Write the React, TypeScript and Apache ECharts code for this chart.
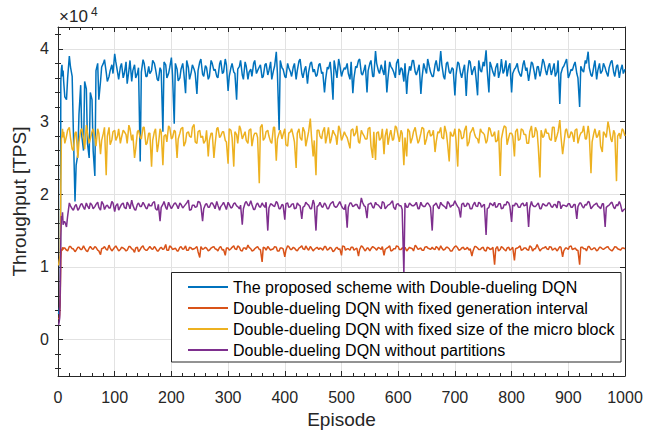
import React, { useEffect, useRef } from "react";
import * as echarts from "echarts";

const episodes = [
  1, 2, 3, 4, 5, 6, 7, 8, 9, 10,
  15, 20, 25, 30, 35, 40, 45, 50, 55, 60,
  65, 70, 75, 80, 85, 90, 95, 100, 105, 110,
  115, 120, 125, 130, 135, 140, 145, 150, 155, 160,
  165, 170, 175, 180, 185, 190, 195, 200, 205, 210,
  215, 220, 225, 230, 235, 240, 245, 250, 255, 260,
  265, 270, 275, 280, 285, 290, 295, 300, 305, 310,
  315, 320, 325, 330, 335, 340, 345, 350, 355, 360,
  365, 370, 375, 380, 385, 390, 395, 400, 405, 410,
  415, 420, 425, 430, 435, 440, 445, 450, 455, 460,
  465, 470, 475, 480, 485, 490, 495, 500, 505, 510,
  515, 520, 525, 530, 535, 540, 545, 550, 555, 560,
  565, 570, 575, 580, 585, 590, 595, 600, 605, 610,
  615, 620, 625, 630, 635, 640, 645, 650, 655, 660,
  665, 670, 675, 680, 685, 690, 695, 700, 705, 710,
  715, 720, 725, 730, 735, 740, 745, 750, 755, 760,
  765, 770, 775, 780, 785, 790, 795, 800, 805, 810,
  815, 820, 825, 830, 835, 840, 845, 850, 855, 860,
  865, 870, 875, 880, 885, 890, 895, 900, 905, 910,
  915, 920, 925, 930, 935, 940, 945, 950, 955, 960,
  965, 970, 975, 980, 985, 990, 995, 1000,
];

// Intermediate episodes read between the main grid points
const midEpisodes = [
  12, 17, 22, 27, 32, 37, 42, 47, 52, 57,
  62, 67, 72, 77, 82, 87, 92, 97, 102, 107,
  112, 117, 122, 127, 132, 137, 142, 147, 152, 157,
  162, 167, 172, 177, 182, 187, 192, 197, 202, 207,
  212, 217, 222, 227, 232, 237, 242, 247, 252, 257,
  262, 267, 272, 277, 282, 287, 292, 297, 302, 307,
  312, 317, 322, 327, 332, 337, 342, 347, 352, 357,
  362, 367, 372, 377, 382, 387, 392, 397, 402, 407,
  412, 417, 422, 427, 432, 437, 442, 447, 452, 457,
  462, 467, 472, 477, 482, 487, 492, 497, 502, 507,
  512, 517, 522, 527, 532, 537, 542, 547, 552, 557,
  562, 567, 572, 577, 582, 587, 592, 597, 602, 607,
  612, 617, 622, 627, 632, 637, 642, 647, 652, 657,
  662, 667, 672, 677, 682, 687, 692, 697, 702, 707,
  712, 717, 722, 727, 732, 737, 742, 747, 752, 757,
  762, 767, 772, 777, 782, 787, 792, 797, 802, 807,
  812, 817, 822, 827, 832, 837, 842, 847, 852, 857,
  862, 867, 872, 877, 882, 887, 892, 897, 902, 907,
  912, 917, 922, 927, 932, 937, 942, 947, 952, 957,
  962, 967, 972, 977, 982, 987, 992, 997,
];

// Throughput in units of 10^4 TPS
const proposedScheme = [
  0.35, 0.40, 0.45, 0.55, 3.55, 3.72, 3.78, 3.62, 3.70, 3.55,
  3.30, 3.90, 3.62, 1.90, 2.55, 3.50, 2.60, 3.45, 2.50, 3.30,
  2.25, 3.80, 3.55, 3.80, 3.68, 3.62, 3.78, 3.93, 3.68, 3.75,
  3.60, 3.82, 3.70, 3.55, 3.78, 3.66, 2.45, 3.85, 3.62, 3.76,
  3.70, 3.80, 3.58, 3.74, 2.86, 3.78, 3.66, 3.88, 2.97, 3.72,
  3.60, 3.80, 3.39, 3.74, 3.68, 3.72, 3.38, 3.82, 3.65, 3.77,
  3.58, 3.84, 3.70, 3.62, 3.79, 3.66, 3.86, 3.42, 3.74, 3.68,
  3.30, 3.76, 3.64, 3.82, 3.58, 3.72, 3.80, 3.66, 3.75, 3.60,
  3.78, 3.64, 3.82, 3.70, 3.96, 2.88, 3.74, 3.62, 3.80, 3.68,
  3.75, 3.58, 3.83, 3.66, 3.72, 3.52, 3.80, 3.68, 3.62, 3.78,
  3.66, 3.40, 3.75, 3.82, 3.30, 3.70, 3.86, 3.62, 3.74, 3.80,
  3.58, 3.39, 3.76, 3.84, 3.66, 3.72, 3.40, 3.80, 3.62, 3.97,
  3.70, 3.78, 3.64, 3.40, 3.82, 3.72, 3.60, 3.86, 3.74, 3.55,
  3.38, 3.76, 3.84, 3.68, 3.72, 3.38, 3.80, 3.66, 3.75, 3.62,
  3.78, 3.70, 3.97, 3.62, 3.80, 3.68, 3.74, 3.36, 3.82, 3.66,
  3.72, 3.35, 3.84, 3.64, 3.76, 3.36, 3.70, 3.82, 3.98, 3.40,
  3.74, 3.62, 3.80, 3.70, 3.66, 3.84, 3.76, 3.40, 3.72, 3.80,
  3.64, 3.78, 3.70, 3.56, 3.82, 3.68, 3.75, 3.62, 3.86, 3.70,
  3.76, 3.64, 3.80, 3.68, 3.24, 3.74, 3.82, 3.60, 3.72, 3.78,
  3.66, 3.20, 3.70, 3.84, 3.96, 3.64, 3.76, 3.58, 3.80, 3.70,
  3.74, 3.62, 3.82, 3.68, 3.76, 3.60, 3.78, 3.72,
];
const proposedSchemeMid = [
  3.34, 3.60, 3.75, 2.90, 2.40, 3.10, 2.80, 3.55, 2.70, 3.40,
  2.60, 3.70, 3.30, 3.75, 3.85, 3.55, 3.70, 3.66, 3.82, 3.58,
  3.80, 3.66, 3.52, 3.84, 3.70, 3.60, 3.74, 3.68, 3.80, 3.62,
  3.66, 3.84, 3.72, 3.56, 3.70, 3.82, 3.60, 3.74, 3.64, 3.80,
  3.56, 3.72, 3.66, 3.84, 3.58, 3.78, 3.66, 3.70, 3.86, 3.62,
  3.74, 3.62, 3.80, 3.72, 3.60, 3.84, 3.68, 3.78, 3.62, 3.80,
  3.66, 3.72, 3.84, 3.58, 3.76, 3.68, 3.62, 3.84, 3.70, 3.78,
  3.62, 3.80, 3.70, 3.58, 3.76, 3.66, 3.84, 3.72, 3.60, 3.74,
  3.62, 3.80, 3.70, 3.86, 3.60, 3.76, 3.68, 3.82, 3.72, 3.64,
  3.80, 3.68, 3.58, 3.72, 3.66, 3.84, 3.60, 3.78, 3.68, 3.72,
  3.66, 3.82, 3.60, 3.74, 3.86, 3.64, 3.78, 3.70, 3.84, 3.62,
  3.80, 3.66, 3.72, 3.84, 3.60, 3.76, 3.68, 3.80, 3.64, 3.72,
  3.80, 3.62, 3.70, 3.84, 3.64, 3.78, 3.60, 3.74, 3.86, 3.68,
  3.62, 3.84, 3.70, 3.78, 3.58, 3.82, 3.66, 3.72, 3.64, 3.80,
  3.60, 3.78, 3.66, 3.82, 3.70, 3.62, 3.84, 3.68, 3.76, 3.70,
  3.82, 3.68, 3.74, 3.60, 3.86, 3.70, 3.62, 3.80, 3.66, 3.74,
  3.70, 3.62, 3.84, 3.74, 3.66, 3.80, 3.58, 3.76, 3.70, 3.82,
  3.64, 3.80, 3.70, 3.62, 3.84, 3.66, 3.76, 3.86, 3.64, 3.70,
  3.82, 3.60, 3.76, 3.68, 3.80, 3.74, 3.62, 3.84, 3.70, 3.66,
  3.80, 3.68, 3.74, 3.84, 3.62, 3.78, 3.70, 3.66,
];

const fixedInterval = [
  0.30, 0.28, 0.35, 0.60, 1.10, 1.25, 1.22, 1.27, 1.24, 1.26,
  1.23, 1.28, 1.25, 1.21, 1.27, 1.24, 1.29, 1.22, 1.26, 1.25,
  1.28, 1.23, 1.17, 1.26, 1.24, 1.30, 1.22, 1.27, 1.25, 1.24,
  1.26, 1.22, 1.28, 1.25, 1.20, 1.27, 1.24, 1.29, 1.23, 1.26,
  1.25, 1.28, 1.22, 1.26, 1.24, 1.31, 1.23, 1.27, 1.25, 1.22,
  1.27, 1.24, 1.29, 1.23, 1.26, 1.25, 1.28, 1.13, 1.24, 1.27,
  1.22, 1.26, 1.28, 1.24, 1.27, 1.23, 1.16, 1.26, 1.25, 1.29,
  1.24, 1.27, 1.22, 1.26, 1.30, 1.25, 1.23, 1.27, 1.24, 1.07,
  1.26, 1.28, 1.23, 1.25, 1.27, 1.22, 1.26, 1.14, 1.29, 1.24,
  1.27, 1.23, 1.26, 1.29, 1.24, 1.25, 1.28, 1.22, 1.26, 1.24,
  1.25, 1.28, 1.23, 1.27, 1.21, 1.26, 1.24, 1.16, 1.28, 1.25,
  1.23, 1.27, 1.25, 1.15, 1.29, 1.24, 1.26, 1.22, 1.28, 1.25,
  1.27, 1.24, 1.16, 1.26, 1.29, 1.23, 1.25, 1.28, 1.24, 1.26,
  1.22, 1.27, 1.25, 1.30, 1.24, 1.26, 1.23, 1.28, 1.25, 1.27,
  1.24, 1.26, 1.29, 1.23, 1.27, 1.25, 1.22, 1.28, 1.26, 1.24,
  1.27, 1.25, 1.23, 1.15, 1.28, 1.26, 1.24, 1.27, 1.22, 1.26,
  1.25, 1.03, 1.28, 1.24, 1.26, 1.22, 1.27, 1.25, 1.09, 1.26,
  1.29, 1.24, 1.26, 1.23, 1.27, 1.25, 1.31, 1.22, 1.26, 1.28,
  1.24, 1.27, 1.25, 1.22, 1.28, 1.14, 1.26, 1.24, 1.29, 1.25,
  1.23, 1.03, 1.27, 1.25, 1.28, 1.24, 1.26, 1.22, 1.27, 1.25,
  1.26, 1.28, 1.23, 1.25, 1.27, 1.24, 1.26, 1.25,
];
const fixedIntervalMid = [
  1.26, 1.22, 1.28, 1.25, 1.23, 1.27, 1.24, 1.26, 1.21, 1.28,
  1.24, 1.27, 1.22, 1.25, 1.28, 1.23, 1.26, 1.24, 1.29, 1.22,
  1.27, 1.25, 1.23, 1.28, 1.24, 1.26, 1.21, 1.27, 1.25, 1.23,
  1.28, 1.24, 1.26, 1.22, 1.27, 1.25, 1.23, 1.29, 1.24, 1.26,
  1.22, 1.28, 1.25, 1.23, 1.27, 1.24, 1.26, 1.21, 1.28, 1.25,
  1.26, 1.23, 1.27, 1.25, 1.22, 1.28, 1.24, 1.26, 1.23, 1.27,
  1.25, 1.29, 1.23, 1.26, 1.24, 1.27, 1.22, 1.25, 1.28, 1.24,
  1.27, 1.23, 1.26, 1.24, 1.28, 1.22, 1.26, 1.25, 1.23, 1.28,
  1.24, 1.26, 1.22, 1.27, 1.25, 1.29, 1.23, 1.26, 1.24, 1.27,
  1.26, 1.23, 1.28, 1.24, 1.26, 1.22, 1.27, 1.25, 1.29, 1.23,
  1.25, 1.27, 1.23, 1.26, 1.24, 1.28, 1.22, 1.26, 1.25, 1.27,
  1.23, 1.26, 1.28, 1.24, 1.27, 1.22, 1.25, 1.29, 1.24, 1.26,
  1.27, 1.24, 1.26, 1.22, 1.28, 1.25, 1.23, 1.27, 1.26, 1.24,
  1.25, 1.28, 1.23, 1.26, 1.24, 1.27, 1.22, 1.25, 1.29, 1.23,
  1.26, 1.24, 1.27, 1.25, 1.22, 1.28, 1.24, 1.26, 1.23, 1.27,
  1.24, 1.27, 1.25, 1.22, 1.28, 1.24, 1.26, 1.23, 1.27, 1.25,
  1.27, 1.23, 1.26, 1.24, 1.29, 1.22, 1.25, 1.27, 1.24, 1.26,
  1.25, 1.28, 1.23, 1.26, 1.24, 1.27, 1.22, 1.26, 1.28, 1.24,
  1.26, 1.23, 1.27, 1.25, 1.22, 1.28, 1.24, 1.26, 1.23, 1.27,
  1.24, 1.27, 1.25, 1.22, 1.28, 1.25, 1.23, 1.26,
];

const fixedMicroBlock = [
  1.02, 1.08, 1.12, 1.18, 2.10, 2.75, 2.82, 2.90, 2.78, 2.86,
  2.80, 2.92, 2.62, 2.84, 2.50, 2.88, 2.76, 2.95, 2.70, 2.86,
  2.78, 2.90, 2.55, 2.84, 2.26, 2.92, 2.75, 2.88, 2.80, 2.70,
  2.88, 2.82, 2.95, 2.74, 2.50, 2.86, 2.78, 2.92, 2.68, 2.84,
  2.38, 2.86, 2.58, 2.90, 2.40, 2.82, 2.94, 2.76, 2.88, 2.50,
  2.84, 2.92, 2.72, 2.86, 2.78, 2.96, 2.70, 2.88, 2.80, 2.74,
  2.52, 2.84, 2.50, 2.90, 2.78, 2.86, 2.74, 2.42, 2.88, 2.38,
  2.82, 2.94, 2.76, 2.86, 2.70, 2.90, 2.80, 2.84, 2.15, 2.96,
  2.78, 2.88, 2.72, 2.92, 2.46, 2.84, 2.76, 2.90, 2.66, 2.86,
  2.80, 2.36, 2.90, 2.74, 2.86, 2.78, 3.04, 2.52, 2.26, 2.88,
  2.76, 2.92, 2.82, 2.70, 2.88, 2.80, 2.94, 2.74, 2.86, 2.78,
  2.63, 2.90, 2.84, 2.72, 2.88, 2.80, 2.76, 2.92, 2.50, 2.47,
  2.86, 2.78, 2.55, 2.90, 2.82, 2.74, 2.94, 2.80, 2.88, 2.40,
  2.52, 2.86, 2.78, 2.92, 2.70, 2.84, 2.90, 2.76, 2.88, 2.82,
  2.58, 2.86, 2.92, 2.76, 2.84, 2.45, 2.80, 2.90, 2.38, 2.86,
  2.78, 2.94, 2.72, 2.88, 2.82, 2.76, 2.90, 2.84, 2.70, 2.92,
  2.80, 2.86, 2.74, 2.25, 2.88, 2.92, 2.78, 2.84, 2.52, 2.90,
  2.76, 2.88, 2.82, 2.70, 2.94, 2.80, 2.86, 2.23, 2.78, 2.90,
  2.84, 2.74, 2.92, 2.80, 3.02, 2.55, 2.88, 2.78, 2.86, 2.72,
  2.90, 2.80, 2.86, 2.76, 2.94, 2.29, 2.84, 2.78, 2.88, 2.58,
  2.82, 3.00, 2.76, 2.88, 2.18, 2.84, 2.90, 2.80,
];
const fixedMicroBlockMid = [
  2.70, 2.88, 2.78, 2.60, 2.86, 2.72, 2.90, 2.62, 2.84, 2.76,
  2.90, 2.66, 2.84, 2.74, 2.92, 2.80, 2.68, 2.86, 2.74, 2.90,
  2.78, 2.86, 2.70, 2.90, 2.82, 2.62, 2.88, 2.76, 2.92, 2.70,
  2.84, 2.74, 2.90, 2.68, 2.86, 2.80, 2.72, 2.92, 2.78, 2.86,
  2.76, 2.90, 2.66, 2.84, 2.80, 2.92, 2.72, 2.86, 2.78, 2.70,
  2.88, 2.74, 2.84, 2.68, 2.92, 2.80, 2.86, 2.72, 2.90, 2.78,
  2.86, 2.70, 2.90, 2.80, 2.74, 2.88, 2.66, 2.84, 2.78, 2.92,
  2.74, 2.86, 2.80, 2.70, 2.92, 2.76, 2.88, 2.82, 2.68, 2.84,
  2.90, 2.72, 2.84, 2.78, 2.92, 2.66, 2.86, 2.80, 2.74, 2.88,
  2.80, 2.86, 2.70, 2.92, 2.76, 2.84, 2.68, 2.90, 2.78, 2.82,
  2.72, 2.88, 2.80, 2.94, 2.70, 2.84, 2.76, 2.90, 2.66, 2.86,
  2.84, 2.74, 2.90, 2.80, 2.68, 2.88, 2.76, 2.92, 2.72, 2.84,
  2.78, 2.90, 2.70, 2.86, 2.82, 2.74, 2.92, 2.68, 2.84, 2.80,
  2.88, 2.72, 2.84, 2.78, 2.94, 2.70, 2.86, 2.80, 2.74, 2.90,
  2.76, 2.88, 2.66, 2.84, 2.92, 2.78, 2.70, 2.86, 2.82, 2.74,
  2.90, 2.80, 2.72, 2.88, 2.76, 2.94, 2.68, 2.84, 2.80, 2.86,
  2.74, 2.90, 2.82, 2.70, 2.86, 2.78, 2.92, 2.66, 2.88, 2.80,
  2.84, 2.76, 2.92, 2.72, 2.86, 2.80, 2.68, 2.90, 2.78, 2.84,
  2.88, 2.70, 2.84, 2.94, 2.76, 2.82, 2.72, 2.90, 2.80, 2.66,
  2.86, 2.78, 2.92, 2.72, 2.84, 2.80, 2.76, 2.88,
];

const withoutPartitions = [
  0.20, 0.24, 0.30, 0.70, 1.40, 1.70, 1.65, 1.75, 1.58, 1.62,
  1.55, 1.88, 1.80, 1.84, 1.78, 1.86, 1.82, 1.88, 1.80, 1.85,
  1.83, 1.89, 1.78, 1.86, 1.84, 1.81, 1.90, 1.76, 1.87, 1.83,
  1.88, 1.80, 1.85, 1.92, 1.79, 1.86, 1.83, 1.89, 1.81, 1.87,
  1.84, 1.90, 1.78, 1.63, 1.86, 1.82, 1.89, 1.80, 1.87, 1.84,
  1.88, 1.81, 1.86, 1.92, 1.79, 1.85, 1.83, 1.89, 1.63, 1.86,
  1.82, 1.88, 1.84, 1.90, 1.78, 1.86, 1.83, 1.89, 1.81, 1.87,
  1.84, 1.80, 1.58, 1.88, 1.85, 1.91, 1.79, 1.86, 1.83, 1.88,
  1.82, 1.50, 1.87, 1.84, 1.90, 1.80, 1.86, 1.65, 1.88, 1.83,
  1.87, 1.81, 1.85, 1.66, 1.84, 1.86, 1.80, 1.92, 1.50, 1.85,
  1.83, 1.88, 1.80, 1.86, 1.90, 1.82, 1.87, 1.84, 1.79, 1.54,
  1.88, 1.83, 1.86, 1.81, 1.95, 1.84, 1.67, 1.87, 1.82, 1.89,
  1.85, 1.80, 1.88, 1.83, 1.86, 1.91, 1.79, 1.87, 1.84, 0.90,
  1.82, 1.88, 1.84, 1.86, 1.80, 1.89, 1.83, 1.87, 1.85, 1.50,
  1.86, 1.82, 1.89, 1.84, 1.80, 1.87, 1.85, 1.91, 1.83, 1.68,
  1.88, 1.84, 1.86, 1.80, 1.89, 1.83, 1.87, 1.85, 1.44, 1.82,
  1.86, 1.89, 1.83, 1.87, 1.81, 1.85, 1.88, 1.62, 1.84, 1.86,
  1.82, 1.88, 1.85, 1.55, 1.90, 1.83, 1.86, 1.80, 1.87, 1.84,
  1.88, 1.83, 1.86, 1.81, 1.89, 1.85, 1.84, 1.87, 1.82, 1.86,
  1.66, 1.88, 1.83, 1.86, 1.90, 1.80, 1.85, 1.88, 1.82, 1.87,
  1.55, 1.84, 1.88, 1.82, 1.86, 1.90, 1.76, 1.80,
];
const withoutPartitionsMid = [
  1.62, 1.70, 1.84, 1.78, 1.86, 1.80, 1.87, 1.79, 1.84, 1.88,
  1.80, 1.86, 1.82, 1.90, 1.79, 1.85, 1.81, 1.88, 1.84, 1.78,
  1.86, 1.82, 1.89, 1.80, 1.85, 1.78, 1.88, 1.83, 1.86, 1.80,
  1.84, 1.88, 1.80, 1.86, 1.82, 1.90, 1.79, 1.85, 1.83, 1.88,
  1.80, 1.86, 1.83, 1.88, 1.78, 1.85, 1.82, 1.90, 1.84, 1.80,
  1.87, 1.82, 1.88, 1.80, 1.85, 1.83, 1.89, 1.79, 1.86, 1.82,
  1.88, 1.83, 1.85, 1.80, 1.90, 1.84, 1.86, 1.79, 1.88, 1.82,
  1.85, 1.89, 1.81, 1.86, 1.83, 1.88, 1.80, 1.85, 1.87, 1.82,
  1.86, 1.80, 1.88, 1.84, 1.82, 1.89, 1.85, 1.80, 1.87, 1.83,
  1.89, 1.82, 1.86, 1.80, 1.88, 1.84, 1.83, 1.90, 1.81, 1.86,
  1.82, 1.88, 1.84, 1.86, 1.80, 1.89, 1.83, 1.86, 1.88, 1.81,
  1.86, 1.83, 1.90, 1.80, 1.85, 1.88, 1.82, 1.86, 1.84, 1.79,
  1.88, 1.82, 1.86, 1.84, 1.89, 1.80, 1.85, 1.83, 1.88, 1.82,
  1.84, 1.88, 1.80, 1.86, 1.83, 1.90, 1.82, 1.85, 1.87, 1.81,
  1.86, 1.83, 1.88, 1.80, 1.85, 1.84, 1.89, 1.82, 1.86, 1.80,
  1.88, 1.84, 1.82, 1.87, 1.80, 1.86, 1.90, 1.83, 1.85, 1.88,
  1.82, 1.86, 1.84, 1.89, 1.81, 1.85, 1.83, 1.88, 1.80, 1.86,
  1.84, 1.88, 1.82, 1.86, 1.90, 1.80, 1.85, 1.83, 1.87, 1.82,
  1.86, 1.83, 1.88, 1.81, 1.85, 1.89, 1.82, 1.86, 1.84, 1.80,
  1.87, 1.82, 1.85, 1.89, 1.80, 1.84, 1.86, 1.78,
];

const seriesNames = [
  "The proposed scheme with Double-dueling DQN",
  "Double-dueling DQN with fixed generation interval",
  "Double-dueling DQN with fixed size of the micro block",
  "Double-dueling DQN without partitions",
];
const seriesColors = ["#0072BD", "#D95319", "#EDB120", "#7E2F8E"];

const yMajorTicks = [0, 1, 2, 3, 4];
const yMinorTicks = [
  -0.4, -0.2, 0.2, 0.4, 0.6, 0.8, 1.2, 1.4, 1.6, 1.8,
  2.2, 2.4, 2.6, 2.8, 3.2, 3.4, 3.6, 3.8, 4.2,
];

const FONT = "'Liberation Sans', Arial, Helvetica, sans-serif";
const AX = "#262626";

export default function App() {
  const ref = useRef<HTMLDivElement>(null);

  useEffect(() => {
    if (!ref.current) return;
    const chart = echarts.init(ref.current, null, { renderer: "svg" });
    const pairs = (main: number[], mid: number[]) =>
      episodes
        .map((e, i) => [e, main[i]])
        .concat(midEpisodes.map((e, i) => [e, mid[i]]))
        .sort((a, b) => a[0] - b[0]);
    const allValues = [
      [proposedScheme, proposedSchemeMid],
      [fixedInterval, fixedIntervalMid],
      [fixedMicroBlock, fixedMicroBlockMid],
      [withoutPartitions, withoutPartitionsMid],
    ];

    const xBase = {
      type: "value",
      min: 0,
      max: 1000,
      interval: 100,
      axisLine: { show: true, onZero: false, lineStyle: { color: AX, width: 1 } },
      axisTick: { show: true, inside: true, length: 5, lineStyle: { color: AX } },
      minorTick: { show: true, splitNumber: 5, length: 3, lineStyle: { color: AX } },
    };
    const yBase = { type: "value", min: -0.5, max: 4.3 };

    chart.setOption({
      animation: false,
      backgroundColor: "#ffffff",
      grid: { left: 58, right: 40, top: 27, bottom: 61, containLabel: false },
      xAxis: [
        {
          ...xBase,
          position: "bottom",
          axisLabel: {
            fontSize: 16,
            color: AX,
            margin: 13,
            fontFamily: FONT,
            formatter: (v: number) => String(v),
          },
          splitLine: { show: true, lineStyle: { color: "#e2e2e2", width: 1 } },
          name: "Episode",
          nameLocation: "middle",
          nameGap: 34,
          nameTextStyle: { fontSize: 19, color: AX, fontFamily: FONT },
        },
        {
          ...xBase,
          position: "top",
          axisLabel: { show: false },
          splitLine: { show: false },
        },
      ],
      yAxis: [
        {
          ...yBase,
          position: "left",
          axisLine: { show: true, onZero: false, lineStyle: { color: AX, width: 1 } },
          axisTick: { show: true, inside: true, length: 5, customValues: yMajorTicks, lineStyle: { color: AX } },
          axisLabel: { fontSize: 16, color: AX, margin: 9, fontFamily: FONT, customValues: yMajorTicks },
          splitLine: { show: true, lineStyle: { color: "#e2e2e2", width: 1 } },
          name: "Throughput [TPS]",
          nameLocation: "middle",
          nameGap: 19,
          nameTextStyle: { fontSize: 19, color: AX, fontFamily: FONT },
        },
        {
          ...yBase,
          position: "left",
          axisLine: { show: false },
          axisTick: { show: true, inside: true, length: 3, customValues: yMinorTicks, lineStyle: { color: AX } },
          axisLabel: { show: false },
          splitLine: { show: false },
        },
        {
          ...yBase,
          position: "right",
          axisLine: { show: true, onZero: false, lineStyle: { color: AX, width: 1 } },
          axisTick: { show: true, inside: true, length: 5, customValues: yMajorTicks, lineStyle: { color: AX } },
          axisLabel: { show: false },
          splitLine: { show: false },
        },
        {
          ...yBase,
          position: "right",
          axisLine: { show: false },
          axisTick: { show: true, inside: true, length: 3, customValues: yMinorTicks, lineStyle: { color: AX } },
          axisLabel: { show: false },
          splitLine: { show: false },
        },
      ],
      legend: {
        data: seriesNames,
        orient: "vertical",
        left: 188,
        top: 278.5,
        padding: 0,
        itemGap: 4,
        itemWidth: 40,
        itemHeight: 2,
        icon: "rect",
        textStyle: { fontSize: 16, lineHeight: 17, color: "#000", fontFamily: FONT },
        z: 10,
      },
      graphic: [
        {
          type: "rect",
          z: 5,
          shape: { x: 171.5, y: 272.5, width: 449.5, height: 89.5 },
          style: { fill: "#ffffff", stroke: AX, lineWidth: 1 },
        },
        {
          type: "text",
          z: 5,
          x: 59,
          y: 16.5,
          style: { text: "×10", fontSize: 17, fill: AX, fontFamily: FONT, verticalAlign: "middle", align: "left" },
        },
        {
          type: "text",
          z: 5,
          x: 91,
          y: 12,
          style: { text: "4", fontSize: 12, fill: AX, fontFamily: FONT, verticalAlign: "middle", align: "left" },
        },
      ],
      series: seriesNames.map((name, k) => ({
        name,
        type: "line",
        xAxisIndex: 0,
        yAxisIndex: 0,
        data: pairs(allValues[k][0], allValues[k][1]),
        showSymbol: false,
        symbol: "none",
        color: seriesColors[k],
        lineStyle: { color: seriesColors[k], width: 1.5 },
        itemStyle: { color: seriesColors[k] },
        z: 2,
      })),
    });

    return () => chart.dispose();
  }, []);

  return (
    <div
      ref={ref}
      style={{ position: "fixed", left: 0, top: 0, width: 665, height: 437, background: "#fff" }}
    />
  );
}
